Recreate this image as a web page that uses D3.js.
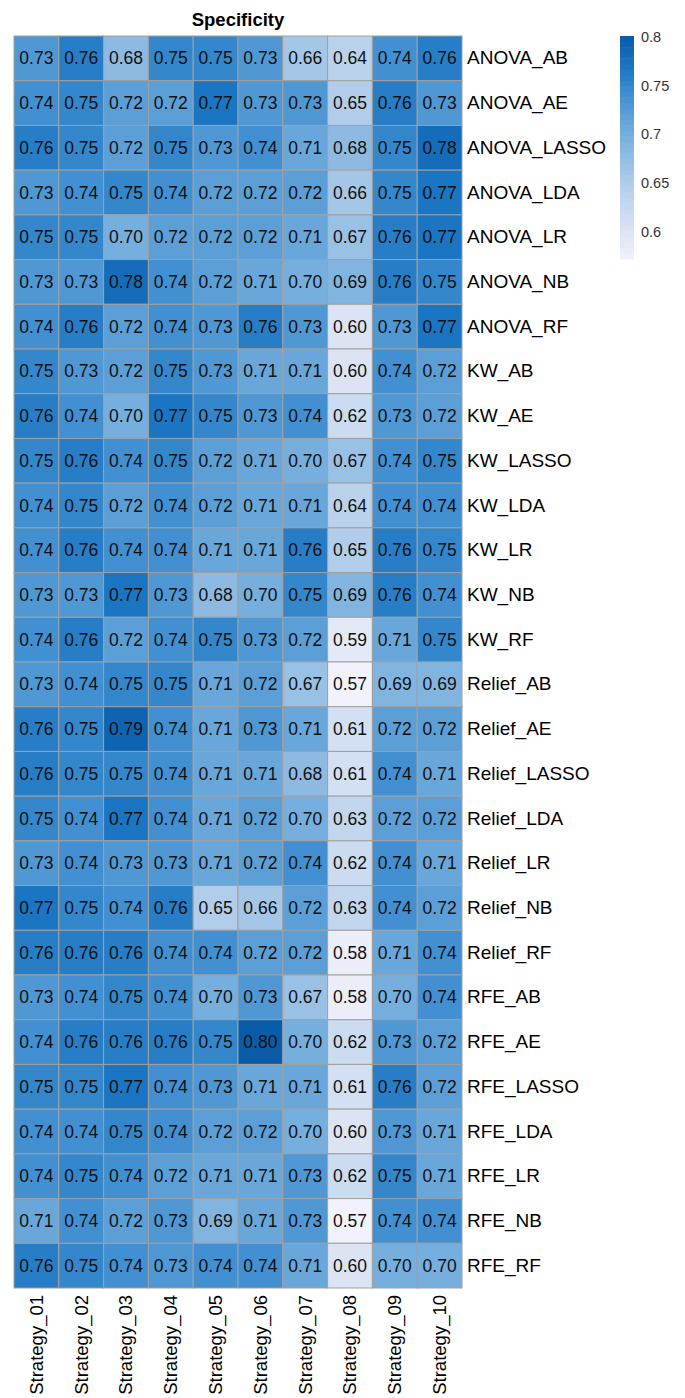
<!DOCTYPE html>
<html><head><meta charset="utf-8">
<script src="https://cdn.jsdelivr.net/npm/d3@7"></script>
<style>body{margin:0;background:#fff}svg{display:block}text{font-family:"Liberation Sans",Arial,sans-serif}</style>
</head><body>
<script>
const strategies = ["Strategy_01","Strategy_02","Strategy_03","Strategy_04","Strategy_05","Strategy_06","Strategy_07","Strategy_08","Strategy_09","Strategy_10"];
const methods = ["ANOVA_AB","ANOVA_AE","ANOVA_LASSO","ANOVA_LDA","ANOVA_LR","ANOVA_NB","ANOVA_RF","KW_AB","KW_AE","KW_LASSO","KW_LDA","KW_LR","KW_NB","KW_RF","Relief_AB","Relief_AE","Relief_LASSO","Relief_LDA","Relief_LR","Relief_NB","Relief_RF","RFE_AB","RFE_AE","RFE_LASSO","RFE_LDA","RFE_LR","RFE_NB","RFE_RF"];
const values = [
[0.73,0.76,0.68,0.75,0.75,0.73,0.66,0.64,0.74,0.76],
[0.74,0.75,0.72,0.72,0.77,0.73,0.73,0.65,0.76,0.73],
[0.76,0.75,0.72,0.75,0.73,0.74,0.71,0.68,0.75,0.78],
[0.73,0.74,0.75,0.74,0.72,0.72,0.72,0.66,0.75,0.77],
[0.75,0.75,0.70,0.72,0.72,0.72,0.71,0.67,0.76,0.77],
[0.73,0.73,0.78,0.74,0.72,0.71,0.70,0.69,0.76,0.75],
[0.74,0.76,0.72,0.74,0.73,0.76,0.73,0.60,0.73,0.77],
[0.75,0.73,0.72,0.75,0.73,0.71,0.71,0.60,0.74,0.72],
[0.76,0.74,0.70,0.77,0.75,0.73,0.74,0.62,0.73,0.72],
[0.75,0.76,0.74,0.75,0.72,0.71,0.70,0.67,0.74,0.75],
[0.74,0.75,0.72,0.74,0.72,0.71,0.71,0.64,0.74,0.74],
[0.74,0.76,0.74,0.74,0.71,0.71,0.76,0.65,0.76,0.75],
[0.73,0.73,0.77,0.73,0.68,0.70,0.75,0.69,0.76,0.74],
[0.74,0.76,0.72,0.74,0.75,0.73,0.72,0.59,0.71,0.75],
[0.73,0.74,0.75,0.75,0.71,0.72,0.67,0.57,0.69,0.69],
[0.76,0.75,0.79,0.74,0.71,0.73,0.71,0.61,0.72,0.72],
[0.76,0.75,0.75,0.74,0.71,0.71,0.68,0.61,0.74,0.71],
[0.75,0.74,0.77,0.74,0.71,0.72,0.70,0.63,0.72,0.72],
[0.73,0.74,0.73,0.73,0.71,0.72,0.74,0.62,0.74,0.71],
[0.77,0.75,0.74,0.76,0.65,0.66,0.72,0.63,0.74,0.72],
[0.76,0.76,0.76,0.74,0.74,0.72,0.72,0.58,0.71,0.74],
[0.73,0.74,0.75,0.74,0.70,0.73,0.67,0.58,0.70,0.74],
[0.74,0.76,0.76,0.76,0.75,0.80,0.70,0.62,0.73,0.72],
[0.75,0.75,0.77,0.74,0.73,0.71,0.71,0.61,0.76,0.72],
[0.74,0.74,0.75,0.74,0.72,0.72,0.70,0.60,0.73,0.71],
[0.74,0.75,0.74,0.72,0.71,0.71,0.73,0.62,0.75,0.71],
[0.71,0.74,0.72,0.73,0.69,0.71,0.73,0.57,0.74,0.74],
[0.76,0.75,0.74,0.73,0.74,0.74,0.71,0.60,0.70,0.70]
];
const legendTicks = [0.6,0.65,0.7,0.75,0.8];
const colorStops = [0.57,0.60,0.65,0.70,0.74,0.77,0.80];
const colorRange = ["#f2f2fc","#dce4f4","#b1cdea","#76aedd","#4290d1","#1a75c2","#0a5ca8"];
const legendDomain = [0.572,0.801];
const title = "Specificity";

const W=685,H=1398;
const svg=d3.select("body").append("svg").attr("width",W).attr("height",H);
const x=d3.scaleBand().domain(strategies).range([14,462]);
const y=d3.scaleBand().domain(methods).range([36,1288]);
const color=d3.scaleLinear().domain(colorStops).range(colorRange).interpolate(d3.interpolateRgb).clamp(true);

const cells=[];
values.forEach((row,i)=>row.forEach((v,j)=>cells.push({m:methods[i],s:strategies[j],v})));

const g=svg.append("g");
g.selectAll("rect").data(cells).join("rect")
 .attr("x",d=>x(d.s)).attr("y",d=>y(d.m))
 .attr("width",x.bandwidth()).attr("height",y.bandwidth())
 .attr("fill",d=>color(d.v)).attr("stroke","#a0a0a0").attr("stroke-width",1);
g.selectAll("text").data(cells).join("text")
 .attr("x",d=>x(d.s)+x.bandwidth()/2).attr("y",d=>y(d.m)+y.bandwidth()/2)
 .attr("text-anchor","middle").attr("dominant-baseline","central")
 .attr("font-size",17.5).attr("fill","#111")
 .text(d=>d.v.toFixed(2));

// row labels
const ra=svg.append("g").attr("transform","translate(462,0)")
 .call(d3.axisRight(y).tickSize(0).tickPadding(5));
ra.select(".domain").remove();
ra.selectAll("text").attr("font-size",19).attr("fill","#000");

// column labels
const ca=svg.append("g").attr("transform","translate(0,1288)")
 .call(d3.axisBottom(x).tickSize(0));
ca.select(".domain").remove();
ca.selectAll("text").attr("font-size",18.5).attr("fill","#000")
 .attr("transform","rotate(-90)").attr("text-anchor","end").attr("dy","0.35em").attr("x",-7).attr("y",0);

// title
svg.append("text").attr("x",(14+462)/2).attr("y",26).attr("text-anchor","middle")
 .attr("font-size",18.5).attr("font-weight","bold").text(title);

// legend
const ly=d3.scaleLinear().domain(legendDomain).range([259,36]);
const nSteps=40;
const steps=d3.range(nSteps).map(i=>legendDomain[0]+(legendDomain[1]-legendDomain[0])*i/nSteps);
const stepH=(ly(legendDomain[0])-ly(legendDomain[1]))/nSteps;
svg.append("g").selectAll("rect").data(steps).join("rect")
 .attr("x",620).attr("width",14).attr("y",d=>ly(d)-stepH).attr("height",stepH+0.5)
 .attr("fill",d=>color(d+(legendDomain[1]-legendDomain[0])/nSteps/2));
const la=svg.append("g").attr("transform","translate(634,0)")
 .call(d3.axisRight(ly).tickValues(legendTicks).tickSize(0).tickPadding(7).tickFormat(d=>String(d)));
la.select(".domain").remove();
la.selectAll("text").attr("font-size",14.5).attr("fill","#333");
</script>
</body></html>
